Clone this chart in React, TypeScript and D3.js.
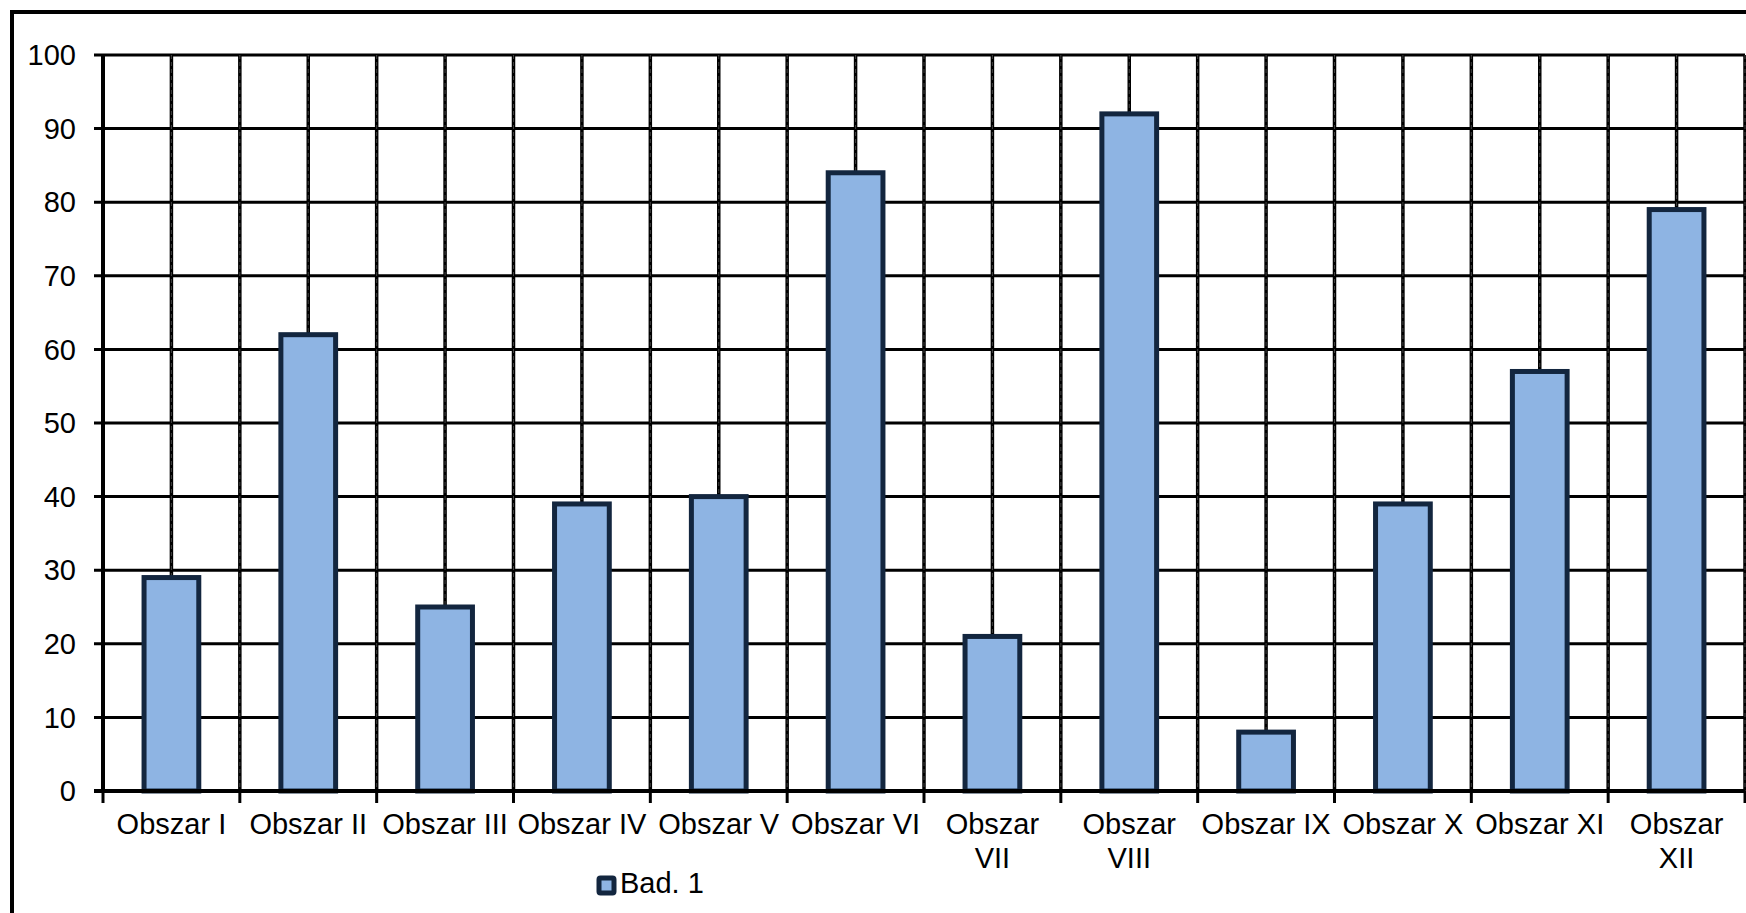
import * as d3 from 'd3';

const categories = [
  'Obszar I', 'Obszar II', 'Obszar III', 'Obszar IV', 'Obszar V', 'Obszar VI',
  'Obszar\nVII', 'Obszar\nVIII', 'Obszar IX', 'Obszar X', 'Obszar XI', 'Obszar\nXII',
];
const values = [29, 62, 25, 39, 40, 84, 21, 92, 8, 39, 57, 79];
const yTicks = [0, 10, 20, 30, 40, 50, 60, 70, 80, 90, 100];
const seriesName = 'Bad. 1';

const W = 1746;
const H = 913;
const PLOT = { left: 103, right: 1745, top: 55, bottom: 791 };
const FONT = "'Liberation Sans', Arial, sans-serif";
const FILL = '#8eb4e3';
const EDGE = '#13263f';

export default function App() {
  const x = d3.scaleBand<string>()
    .domain(categories)
    .range([PLOT.left, PLOT.right])
    .paddingInner(0)
    .paddingOuter(0);
  const y = d3.scaleLinear().domain([0, 100]).range([PLOT.bottom, PLOT.top]);
  const bw = x.bandwidth();
  const barW = bw * 0.4;

  // vertical lines: category boundaries and centres
  const vLines: number[] = [];
  categories.forEach((c) => {
    vLines.push(x(c)! + bw / 2);
    vLines.push(x(c)! + bw);
  });
  const boundaries = [PLOT.left, ...categories.map((c) => x(c)! + bw)];

  return (
    <div style={{ position: 'absolute', left: 0, top: 0 }}>
      <svg width={W} height={H} style={{ display: 'block', background: '#fff' }}>
        {/* outer frame */}
        <rect x={12} y={12} width={W + 20} height={H + 20} fill="none" stroke="#000" strokeWidth={4} />

        {/* horizontal grid */}
        {yTicks.map((t) => (
          <line key={`h${t}`} x1={PLOT.left - 9} x2={PLOT.right} y1={y(t)} y2={y(t)} stroke="#000" strokeWidth={3} />
        ))}

        {/* vertical grid */}
        {vLines.map((v, i) => (
          <g key={`v${i}`}>
            <line x1={v} x2={v} y1={PLOT.top} y2={PLOT.bottom} stroke="#000" strokeWidth={3.5} />
            <line x1={v} x2={v} y1={PLOT.top} y2={PLOT.bottom} stroke="#fff" strokeOpacity={0.5} strokeWidth={0.5} strokeDasharray="4,3" />
          </g>
        ))}

        {/* bars */}
        {categories.map((c, i) => (
          <rect
            key={c}
            x={x(c)! + (bw - barW) / 2}
            y={y(values[i])}
            width={barW}
            height={y(0) - y(values[i])}
            fill={FILL}
            stroke={EDGE}
            strokeWidth={5}
          />
        ))}

        {/* axes */}
        <line x1={PLOT.left} x2={PLOT.left} y1={PLOT.top} y2={PLOT.bottom} stroke="#000" strokeWidth={4} />
        <line x1={PLOT.left - 9} x2={PLOT.right} y1={PLOT.bottom} y2={PLOT.bottom} stroke="#000" strokeWidth={4} />
        {boundaries.map((b, i) => (
          <line key={`t${i}`} x1={b} x2={b} y1={PLOT.bottom} y2={PLOT.bottom + 12} stroke="#000" strokeWidth={3} />
        ))}

        {/* y labels */}
        {yTicks.map((t) => (
          <text key={`yl${t}`} x={76} y={y(t)} dy="0.35em" textAnchor="end" fontFamily={FONT} fontSize={29} fill="#000">
            {t}
          </text>
        ))}

        {/* x labels */}
        {categories.map((c) => (
          <text key={`xl${c}`} x={x(c)! + bw / 2} y={834} textAnchor="middle" fontFamily={FONT} fontSize={29} fill="#000">
            {c.split('\n').map((ln, j) => (
              <tspan key={j} x={x(c)! + bw / 2} dy={j === 0 ? 0 : 34}>{ln}</tspan>
            ))}
          </text>
        ))}

        {/* legend */}
        <rect x={599} y={878} width={15} height={15} rx={1.5} fill={FILL} stroke={EDGE} strokeWidth={5} />
        <text x={620} y={893} fontFamily={FONT} fontSize={29} fill="#000">{seriesName}</text>
      </svg>
    </div>
  );
}
